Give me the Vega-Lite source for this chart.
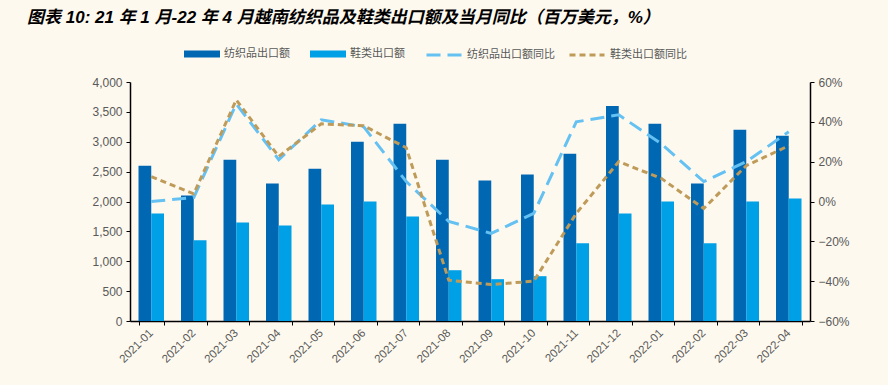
{
  "$schema": "https://vega.github.io/schema/vega-lite/v6.json",
  "width": 680,
  "height": 239,
  "autosize": {"type": "none"},
  "padding": {"left": 130, "top": 82, "right": 78, "bottom": 64},
  "background": "#FEF9EF",
  "config": {
    "view": {"stroke": null},
    "font": "Liberation Sans",
    "axis": {"labelColor": "#595959", "labelFontSize": 12, "domainColor": "#000000", "tickColor": "#000000", "grid": false, "labelFont": "Liberation Sans"},
    "legend": {"labelFont": "Noto Sans CJK SC", "labelColor": "#595959", "labelFontSize": 11}
  },
  "title": {
    "text": "图表 10:  21 年 1 月-22 年 4 月越南纺织品及鞋类出口额及当月同比（百万美元，%）",
    "font": "Liberation Sans, Noto Sans CJK SC",
    "fontSize": 17,
    "fontWeight": "bold",
    "fontStyle": "italic",
    "color": "#000000",
    "anchor": "start",
    "frame": "group",
    "dx": -103,
    "offset": 9
  },
  "datasets": {
    "bars": [
      {"month": "2021-01", "series": "纺织品出口额", "value": 2600},
      {"month": "2021-02", "series": "纺织品出口额", "value": 2100},
      {"month": "2021-03", "series": "纺织品出口额", "value": 2700},
      {"month": "2021-04", "series": "纺织品出口额", "value": 2300},
      {"month": "2021-05", "series": "纺织品出口额", "value": 2550},
      {"month": "2021-06", "series": "纺织品出口额", "value": 3000},
      {"month": "2021-07", "series": "纺织品出口额", "value": 3300},
      {"month": "2021-08", "series": "纺织品出口额", "value": 2700},
      {"month": "2021-09", "series": "纺织品出口额", "value": 2350},
      {"month": "2021-10", "series": "纺织品出口额", "value": 2450},
      {"month": "2021-11", "series": "纺织品出口额", "value": 2800},
      {"month": "2021-12", "series": "纺织品出口额", "value": 3600},
      {"month": "2022-01", "series": "纺织品出口额", "value": 3300},
      {"month": "2022-02", "series": "纺织品出口额", "value": 2300},
      {"month": "2022-03", "series": "纺织品出口额", "value": 3200},
      {"month": "2022-04", "series": "纺织品出口额", "value": 3100},
      {"month": "2021-01", "series": "鞋类出口额", "value": 1800},
      {"month": "2021-02", "series": "鞋类出口额", "value": 1350},
      {"month": "2021-03", "series": "鞋类出口额", "value": 1650},
      {"month": "2021-04", "series": "鞋类出口额", "value": 1600},
      {"month": "2021-05", "series": "鞋类出口额", "value": 1950},
      {"month": "2021-06", "series": "鞋类出口额", "value": 2000},
      {"month": "2021-07", "series": "鞋类出口额", "value": 1750},
      {"month": "2021-08", "series": "鞋类出口额", "value": 850},
      {"month": "2021-09", "series": "鞋类出口额", "value": 700},
      {"month": "2021-10", "series": "鞋类出口额", "value": 750},
      {"month": "2021-11", "series": "鞋类出口额", "value": 1300},
      {"month": "2021-12", "series": "鞋类出口额", "value": 1800},
      {"month": "2022-01", "series": "鞋类出口额", "value": 2000},
      {"month": "2022-02", "series": "鞋类出口额", "value": 1300},
      {"month": "2022-03", "series": "鞋类出口额", "value": 2000},
      {"month": "2022-04", "series": "鞋类出口额", "value": 2050}
    ],
    "lines": [
      {"month": "2021-01", "series": "纺织品出口额同比", "pct": 0.0},
      {"month": "2021-02", "series": "纺织品出口额同比", "pct": 0.02},
      {"month": "2021-03", "series": "纺织品出口额同比", "pct": 0.49},
      {"month": "2021-04", "series": "纺织品出口额同比", "pct": 0.21},
      {"month": "2021-05", "series": "纺织品出口额同比", "pct": 0.41},
      {"month": "2021-06", "series": "纺织品出口额同比", "pct": 0.375},
      {"month": "2021-07", "series": "纺织品出口额同比", "pct": 0.1},
      {"month": "2021-08", "series": "纺织品出口额同比", "pct": -0.1},
      {"month": "2021-09", "series": "纺织品出口额同比", "pct": -0.16},
      {"month": "2021-10", "series": "纺织品出口额同比", "pct": -0.06},
      {"month": "2021-11", "series": "纺织品出口额同比", "pct": 0.4},
      {"month": "2021-12", "series": "纺织品出口额同比", "pct": 0.435},
      {"month": "2022-01", "series": "纺织品出口额同比", "pct": 0.29},
      {"month": "2022-02", "series": "纺织品出口额同比", "pct": 0.1},
      {"month": "2022-03", "series": "纺织品出口额同比", "pct": 0.2},
      {"month": "2022-04", "series": "纺织品出口额同比", "pct": 0.35},
      {"month": "2021-01", "series": "鞋类出口额同比", "pct": 0.125},
      {"month": "2021-02", "series": "鞋类出口额同比", "pct": 0.038},
      {"month": "2021-03", "series": "鞋类出口额同比", "pct": 0.51},
      {"month": "2021-04", "series": "鞋类出口额同比", "pct": 0.226},
      {"month": "2021-05", "series": "鞋类出口额同比", "pct": 0.39},
      {"month": "2021-06", "series": "鞋类出口额同比", "pct": 0.38},
      {"month": "2021-07", "series": "鞋类出口额同比", "pct": 0.27},
      {"month": "2021-08", "series": "鞋类出口额同比", "pct": -0.395},
      {"month": "2021-09", "series": "鞋类出口额同比", "pct": -0.417},
      {"month": "2021-10", "series": "鞋类出口额同比", "pct": -0.4},
      {"month": "2021-11", "series": "鞋类出口额同比", "pct": -0.06},
      {"month": "2021-12", "series": "鞋类出口额同比", "pct": 0.2},
      {"month": "2022-01", "series": "鞋类出口额同比", "pct": 0.116},
      {"month": "2022-02", "series": "鞋类出口额同比", "pct": -0.035},
      {"month": "2022-03", "series": "鞋类出口额同比", "pct": 0.18},
      {"month": "2022-04", "series": "鞋类出口额同比", "pct": 0.28}
    ]
  },
  "encoding": {
    "x": {
      "field": "month",
      "type": "ordinal",
      "scale": {"paddingInner": 0.4, "paddingOuter": 0.2},
      "axis": {"title": null, "labelAngle": -45, "labelAlign": "right", "labelBaseline": "middle", "labelPadding": 6, "tickBand": "extent", "tickSize": 4, "labelFontSize": 11.5, "domainWidth": 1.5}
    }
  },
  "layer": [
    {
      "data": {"name": "bars"},
      "mark": {"type": "bar"},
      "encoding": {
        "xOffset": {"field": "series", "type": "nominal", "sort": ["纺织品出口额", "鞋类出口额"]},
        "y": {
          "field": "value",
          "type": "quantitative",
          "scale": {"domain": [0, 4000], "nice": false},
          "axis": {"title": null, "values": [0, 500, 1000, 1500, 2000, 2500, 3000, 3500, 4000], "format": ",.0f", "tickSize": 4, "domainWidth": 1.5, "labelPadding": 4}
        },
        "fill": {
          "field": "series",
          "type": "nominal",
          "sort": ["纺织品出口额", "鞋类出口额"],
          "scale": {"domain": ["纺织品出口额", "鞋类出口额"], "range": ["#0068B3", "#00A0E6"]},
          "legend": {
            "title": null,
            "orient": "none",
            "legendX": 54,
            "legendY": -46,
            "direction": "horizontal",
            "columns": 2,
            "columnPadding": 20,
            "symbolType": "M-1,-0.19H1V0.19H-1Z",
            "symbolSize": 1296,
            "symbolStrokeWidth": 0,
            "labelOffset": 4
          }
        }
      }
    },
    {
      "data": {"name": "lines"},
      "mark": {"type": "line", "strokeWidth": 3},
      "encoding": {
        "y": {
          "field": "pct",
          "type": "quantitative",
          "scale": {"domain": [-0.6, 0.6], "nice": false},
          "axis": {"title": null, "orient": "right", "values": [-0.6, -0.4, -0.2, 0, 0.2, 0.4, 0.6], "format": ".0%", "tickSize": 4, "domainWidth": 1.5, "labelPadding": 4}
        },
        "stroke": {
          "field": "series",
          "type": "nominal",
          "scale": {"domain": ["纺织品出口额同比", "鞋类出口额同比"], "range": ["#64C1F2", "#BF9B5A"]},
          "legend": {
            "title": null,
            "orient": "none",
            "legendX": 295,
            "legendY": -46,
            "direction": "horizontal",
            "columns": 2,
            "columnPadding": 8,
            "symbolType": "stroke",
            "symbolSize": 1225,
            "symbolStrokeWidth": 3,
            "labelOffset": 4
          }
        },
        "strokeDash": {
          "field": "series",
          "type": "nominal",
          "scale": {"domain": ["纺织品出口额同比", "鞋类出口额同比"], "range": [[14, 7], [6, 4]]},
          "legend": {
            "title": null,
            "orient": "none",
            "legendX": 295,
            "legendY": -46,
            "direction": "horizontal",
            "columns": 2,
            "columnPadding": 8,
            "symbolType": "stroke",
            "symbolSize": 1225,
            "symbolStrokeWidth": 3,
            "labelOffset": 4
          }
        }
      }
    }
  ],
  "resolve": {"scale": {"y": "independent"}}
}
